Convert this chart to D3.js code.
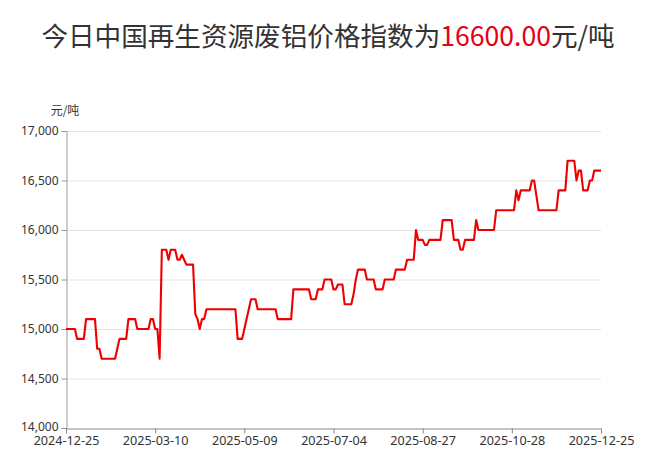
<!DOCTYPE html>
<html>
<head>
<meta charset="utf-8">
<script src="https://cdn.jsdelivr.net/npm/d3@7"></script>
<style>
  body { margin: 0; background: #fff; }
  svg { display: block; }
</style>
</head>
<body>
<div id="chart"></div>
<script>
// title pieces
var titleParts = ["今日中国再生资源废铝价格指数为", "16600.00", "元/吨"];
var unitLabel = "元/吨";

// x tick labels (evenly spaced over the series)
var tickLabels = ["2024-12-25", "2025-03-10", "2025-05-09", "2025-07-04", "2025-08-27", "2025-10-28", "2025-12-25"];

// y ticks
var yTicks = [14000, 14500, 15000, 15500, 16000, 16500, 17000];

// daily index values (元/吨)
var values = [
  15000, 15000, 15000, 15000, 15000, 14900, 14900, 14900, 14900, 15100,
  15100, 15100, 15100, 15100, 14800, 14800, 14700, 14700, 14700, 14700,
  14700, 14700, 14700, 14800, 14900, 14900, 14900, 14900, 15100, 15100,
  15100, 15100, 15000, 15000, 15000, 15000, 15000, 15000, 15100, 15100,
  15000, 15000, 14700, 15800, 15800, 15800, 15700, 15800, 15800, 15800,
  15700, 15700, 15750, 15700, 15650, 15650, 15650, 15650, 15150, 15100,
  15000, 15100, 15100, 15200, 15200, 15200, 15200, 15200, 15200, 15200,
  15200, 15200, 15200, 15200, 15200, 15200, 15200, 14900, 14900, 14900,
  15000, 15100, 15200, 15300, 15300, 15300, 15200, 15200, 15200, 15200,
  15200, 15200, 15200, 15200, 15200, 15100, 15100, 15100, 15100, 15100,
  15100, 15100, 15400, 15400, 15400, 15400, 15400, 15400, 15400, 15400,
  15300, 15300, 15300, 15400, 15400, 15400, 15500, 15500, 15500, 15500,
  15400, 15400, 15450, 15450, 15450, 15250, 15250, 15250, 15250, 15350,
  15500, 15600, 15600, 15600, 15600, 15500, 15500, 15500, 15500, 15400,
  15400, 15400, 15400, 15500, 15500, 15500, 15500, 15500, 15600, 15600,
  15600, 15600, 15600, 15700, 15700, 15700, 15700, 16000, 15900, 15900,
  15900, 15850, 15850, 15900, 15900, 15900, 15900, 15900, 15900, 16100,
  16100, 16100, 16100, 16100, 15900, 15900, 15900, 15800, 15800, 15900,
  15900, 15900, 15900, 15900, 16100, 16000, 16000, 16000, 16000, 16000,
  16000, 16000, 16000, 16200, 16200, 16200, 16200, 16200, 16200, 16200,
  16200, 16200, 16400, 16300, 16400, 16400, 16400, 16400, 16400, 16500,
  16500, 16350, 16200, 16200, 16200, 16200, 16200, 16200, 16200, 16200,
  16200, 16400, 16400, 16400, 16400, 16700, 16700, 16700, 16700, 16500,
  16600, 16600, 16400, 16400, 16400, 16500, 16500, 16600, 16600, 16600,
  16600
];

var width = 660,
	height = 466,
	plotLeft = 66,
	plotRight = 601,
	plotTop = 131,
	plotBottom = 428;

var font = "'Noto Sans', 'Noto Sans CJK SC', sans-serif";

var svg = d3.select("#chart").append("svg")
	.attr("width", width)
	.attr("height", height);

// title
var title = svg.append("text")
	.attr("x", 328)
	.attr("y", 46)
	.attr("text-anchor", "middle")
	.attr("font-family", "'Noto Sans CJK SC', 'Noto Sans', sans-serif")
	.attr("font-size", "26.6px")
	.attr("fill", "#333");

title.append("tspan").text(titleParts[0]);
title.append("tspan").attr("fill", "#e60012").text(titleParts[1]);
title.append("tspan").text(titleParts[2]);

var x = d3.scaleLinear()
	.domain([0, values.length - 1])
	.range([plotLeft, plotRight]);

var y = d3.scaleLinear()
	.domain([yTicks[0], yTicks[yTicks.length - 1]])
	.range([plotBottom, plotTop]);

var step = (values.length - 1) / (tickLabels.length - 1);
var tickIdx = tickLabels.map(function (d, i) { return i * step; });

// grid
svg.append("g")
	.selectAll("line")
	.data(yTicks.slice(1))
	.enter()
	.append("line")
	.attr("x1", plotLeft)
	.attr("x2", plotRight)
	.attr("y1", function (d) { return y(d) + 0.5; })
	.attr("y2", function (d) { return y(d) + 0.5; })
	.attr("stroke", "#e3e3e3")
	.attr("stroke-width", 1);

// y axis
var yAxis = svg.append("g")
	.attr("transform", "translate(" + (plotLeft + 0.5) + ",0)")
	.call(d3.axisLeft(y).tickValues(yTicks).tickFormat(d3.format(",")).tickSize(5).tickPadding(3));

yAxis.select(".domain").attr("stroke", "#999");
yAxis.selectAll(".tick line").attr("stroke", "#999");
yAxis.selectAll("text")
	.attr("font-family", font)
	.attr("font-size", "12px")
	.attr("fill", "#333");

// nudge the bottom label up a touch so it clears the date below
yAxis.selectAll(".tick text")
	.filter(function (d) { return d === yTicks[0]; })
	.attr("dy", "0.2em");

svg.append("text")
	.text(unitLabel)
	.attr("x", 65)
	.attr("y", 115)
	.attr("text-anchor", "middle")
	.attr("font-family", "'Noto Sans CJK SC', sans-serif")
	.attr("font-size", "12px")
	.attr("fill", "#333");

// x axis
var xAxis = svg.append("g")
	.attr("transform", "translate(0," + (plotBottom + 0.5) + ")")
	.call(d3.axisBottom(x)
		.tickValues(tickIdx)
		.tickFormat(function (d, i) { return tickLabels[i]; })
		.tickSize(5)
		.tickPadding(3)
		.tickSizeOuter(0));

xAxis.select(".domain").attr("stroke", "#888");
xAxis.selectAll(".tick line").attr("stroke", "#888");
xAxis.selectAll("text")
	.attr("font-family", font)
	.attr("font-size", "12.6px")
	.attr("fill", "#333");

// line
var line = d3.line()
	.x(function (d, i) { return x(i); })
	.y(function (d) { return y(d); });

svg.append("path")
	.datum(values)
	.attr("d", line)
	.attr("fill", "none")
	.attr("stroke", "#ee0000")
	.attr("stroke-width", 2.1)
	.attr("stroke-linejoin", "round");
</script>
</body>
</html>
